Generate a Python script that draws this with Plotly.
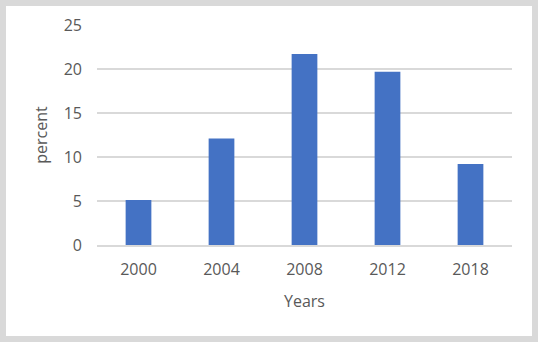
import plotly.graph_objects as go

years = ["2000", "2004", "2008", "2012", "2018"]
percent = [5.1, 12.1, 21.7, 19.7, 9.2]
y_ticks = [0, 5, 10, 15, 20, 25]

W, H = 538, 342
L, R, T, B = 97, 26, 25, 97
pw = W - L - R
ph = H - T - B

def px_x(p):
    return (p - L) / pw

def px_y(p):
    return (H - B - p) / ph

fig = go.Figure(go.Bar(
    x=years, y=percent, marker=dict(color="#4472c4", line=dict(width=0)),
    width=0.31,
))

font = dict(family="Open Sans, Noto Sans, sans-serif", size=16, color="#595959")

fig.update_layout(
    width=W, height=H,
    margin=dict(l=L, r=R, t=T, b=B, pad=0),
    paper_bgcolor="white", plot_bgcolor="white",
    font=font,
    showlegend=False,
    xaxis=dict(
        type="category", showgrid=False, showline=True, linecolor="#d9d9d9", linewidth=1.5,
        ticks="", ticklabelstandoff=9,
        title=dict(text="Years", font=font, standoff=17),
    ),
    yaxis=dict(
        range=[0, 25], tickvals=y_ticks, showgrid=True, gridcolor="#d9d9d9", gridwidth=1.5,
        zeroline=False, showline=False, ticks="", ticklabelstandoff=14,
        title=dict(text="percent", font=font, standoff=12),
    ),
    shapes=[dict(
        type="rect", xref="paper", yref="paper",
        x0=px_x(3), x1=px_x(535), y0=px_y(339), y1=px_y(3),
        line=dict(color="#d9d9d9", width=6), fillcolor="rgba(0,0,0,0)", layer="above",
    )],
)

fig.write_html("out.html", config={"displayModeBar": False},
               post_script="document.body.style.margin='0';")
